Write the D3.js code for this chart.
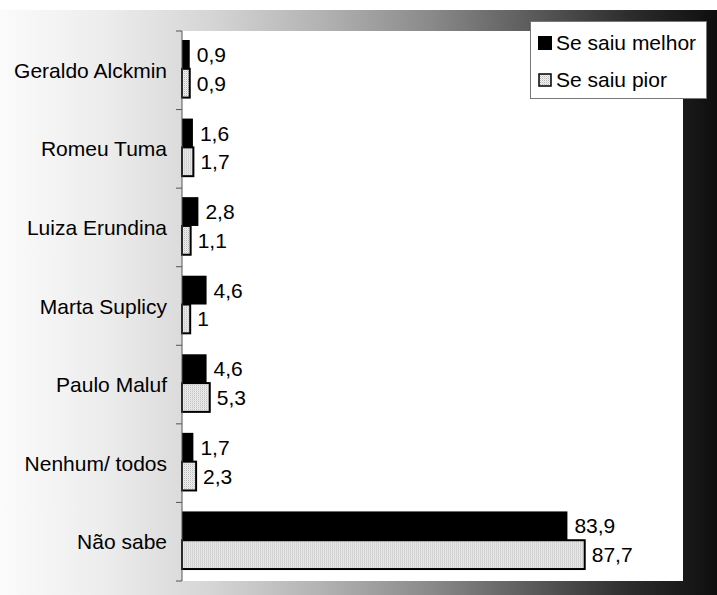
<!DOCTYPE html>
<html>
<head>
<meta charset="utf-8">
<script src="https://cdn.jsdelivr.net/npm/d3@7"></script>
<style>
  body { margin: 0; background: #fff; }
  text { font-family: "Liberation Sans", Arial, sans-serif; }
</style>
</head>
<body>
<div id="chart"></div>
<script>
// dados
const categorias = ["Geraldo Alckmin", "Romeu Tuma", "Luiza Erundina", "Marta Suplicy", "Paulo Maluf", "Nenhum/ todos", "Não sabe"];
const seSaiuMelhor = [0.9, 1.6, 2.8, 4.6, 4.6, 1.7, 83.9];
const seSaiuPior = [0.9, 1.7, 1.1, 1, 5.3, 2.3, 87.7];
const series = ["Se saiu melhor", "Se saiu pior"];

const W = 717, H = 595;
const plot = { left: 182, right: 683, top: 31, bottom: 581 };
const fonte = "21px";

const svg = d3.select("#chart").append("svg")
    .attr("width", W)
    .attr("height", H);

const defs = svg.append("defs");

// fundo degradê branco -> preto
const grad = defs.append("linearGradient")
    .attr("id", "bg")
    .attr("x1", "0%").attr("x2", "100%")
    .attr("y1", "0%").attr("y2", "0%");
[[0, "#fbfbfb"], [0.15, "#ececec"], [0.3, "#d4d4d4"], [0.45, "#b2b2b2"],
 [0.6, "#8a8a8a"], [0.75, "#585858"], [0.88, "#2c2c2c"], [1, "#0e0e0e"]]
    .forEach(s => grad.append("stop").attr("offset", s[0]).attr("stop-color", s[1]));

// padrão pontilhado
const pat = defs.append("pattern")
    .attr("id", "dots")
    .attr("width", 2).attr("height", 2)
    .attr("patternUnits", "userSpaceOnUse");
pat.append("rect").attr("width", 2).attr("height", 2).attr("fill", "#f4f4f4");
pat.append("rect").attr("width", 1).attr("height", 1).attr("fill", "#b4b4b4");
pat.append("rect").attr("x", 1).attr("y", 1).attr("width", 1).attr("height", 1).attr("fill", "#d8d8d8");

svg.append("rect")
    .attr("x", 0).attr("y", 10)
    .attr("width", W).attr("height", H - 10)
    .attr("fill", "url(#bg)");

svg.append("rect")
    .attr("x", plot.left).attr("y", plot.top)
    .attr("width", plot.right - plot.left)
    .attr("height", plot.bottom - plot.top)
    .attr("fill", "#fff");

// escalas
const x = d3.scaleLinear()
    .domain([-0.8, 109.3])
    .range([plot.left, plot.right]);

const y = d3.scaleBand()
    .domain(categorias)
    .range([plot.top, plot.bottom]);

const step = y.step();
const y1 = d3.scaleBand()
    .domain(series)
    .range([9, 9 + 57.6]);

const dados = categorias.map((c, i) => ({ cat: c, valores: [seSaiuMelhor[i], seSaiuPior[i]] }));

const grupos = svg.selectAll(".grupo")
    .data(dados)
    .enter()
    .append("g")
    .attr("class", "grupo")
    .attr("transform", d => `translate(0,${y(d.cat)})`);

grupos.selectAll("rect")
    .data(d => d.valores.map((v, j) => ({ serie: series[j], v: v })))
    .enter()
    .append("rect")
    .attr("x", x.range()[0])
    .attr("y", d => y1(d.serie))
    .attr("width", d => x(d.v) - x.range()[0])
    .attr("height", y1.bandwidth())
    .attr("fill", d => d.serie === series[0] ? "#000" : "url(#dots)")
    .attr("stroke", d => d.serie === series[0] ? "none" : "#000")
    .attr("stroke-width", 2);

grupos.selectAll(".valor")
    .data(d => d.valores.map((v, j) => ({ serie: series[j], v: v })))
    .enter()
    .append("text")
    .attr("class", "valor")
    .attr("x", d => x(d.v) + 7)
    .attr("y", d => y1(d.serie) + y1.bandwidth() / 2)
    .attr("dy", "0.36em")
    .style("font-size", fonte)
    .text(d => String(d.v).replace(".", ","));

// eixo vertical
const eixo = svg.append("g")
    .attr("transform", `translate(${plot.left},0)`);
eixo.append("line")
    .attr("y1", plot.top).attr("y2", plot.bottom)
    .attr("stroke", "#555");
eixo.selectAll(".tick")
    .data(d3.range(categorias.length + 1))
    .enter()
    .append("line")
    .attr("x1", -6).attr("x2", 0)
    .attr("y1", i => plot.top + i * step)
    .attr("y2", i => plot.top + i * step)
    .attr("stroke", "#555");

svg.selectAll(".cat")
    .data(categorias)
    .enter()
    .append("text")
    .attr("class", "cat")
    .attr("x", plot.left - 15)
    .attr("y", d => y(d) + step / 2)
    .attr("dy", "0.36em")
    .attr("text-anchor", "end")
    .style("font-size", fonte)
    .text(d => d);

// legenda
const leg = svg.append("g");
leg.append("rect")
    .attr("x", 530.5).attr("y", 21.5)
    .attr("width", 176).attr("height", 77)
    .attr("fill", "#fff")
    .attr("stroke", "#777");

series.forEach((s, i) => {
    const yy = 36 + i * 37;
    leg.append("rect")
        .attr("x", i === 0 ? 538 : 539)
        .attr("y", i === 0 ? yy : yy + 1)
        .attr("width", i === 0 ? 14 : 12)
        .attr("height", i === 0 ? 14 : 12)
        .attr("fill", i === 0 ? "#000" : "url(#dots)")
        .attr("stroke", i === 0 ? "none" : "#000")
        .attr("stroke-width", 1.5);
    leg.append("text")
        .attr("x", 556)
        .attr("y", yy + 6)
        .attr("dy", "0.36em")
        .style("font-size", fonte)
        .text(s);
});
</script>
</body>
</html>
